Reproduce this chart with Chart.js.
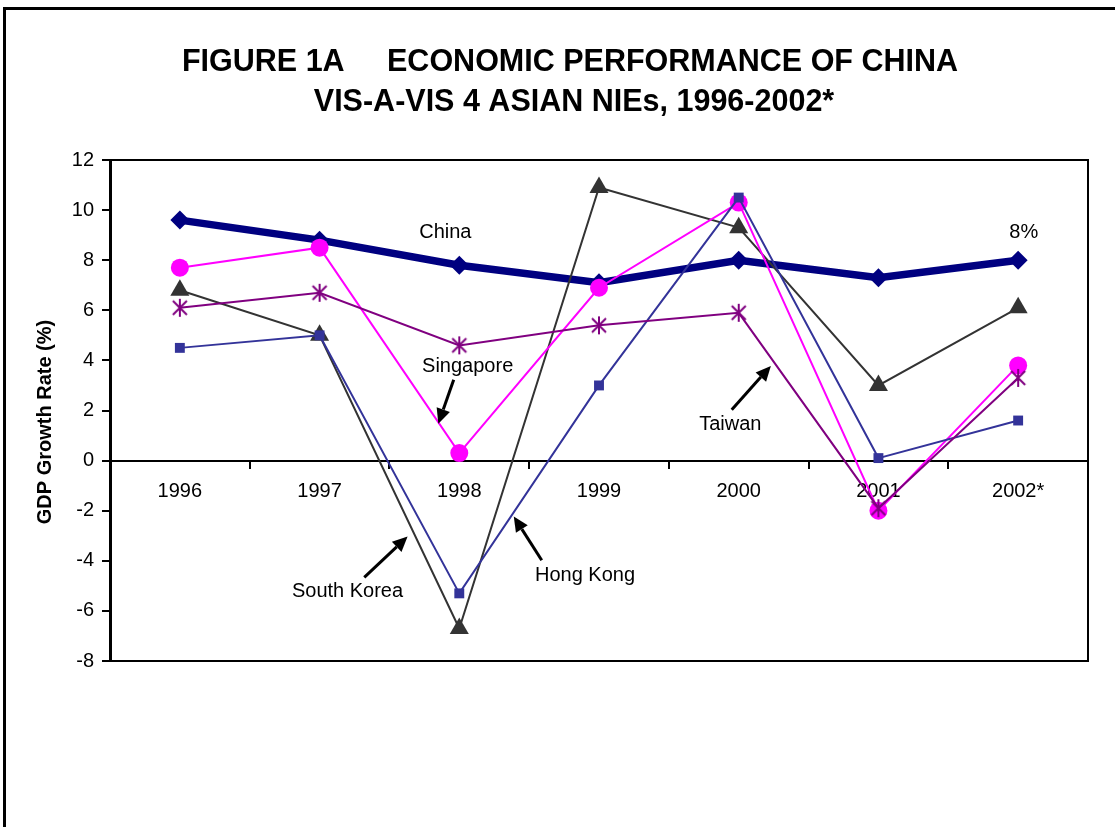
<!DOCTYPE html>
<html>
<head>
<meta charset="utf-8">
<script src="https://cdn.jsdelivr.net/npm/chart.js@4.4.1/dist/chart.umd.min.js"></script>
<style>
  body { margin: 0; background: #fff; }
  canvas { display: block; }
</style>
</head>
<body>
<canvas id="gdpChart" width="1115" height="827"></canvas>
<script>
const years = ['1996', '1997', '1998', '1999', '2000', '2001', '2002*'];
const china = [9.6, 8.8, 7.8, 7.1, 8.0, 7.3, 8.0];
const singapore = [7.7, 8.5, 0.3, 6.9, 10.3, -2.0, 3.8];
const taiwan = [6.1, 6.7, 4.6, 5.4, 5.9, -1.9, 3.3];
const southKorea = [6.8, 5.0, -6.7, 10.9, 9.3, 3.0, 6.1];
const hongKong = [4.5, 5.0, -5.3, 3.0, 10.5, 0.1, 1.6];
const yTicks = [-8, -6, -4, -2, 0, 2, 4, 6, 8, 10, 12];

const FONT = '"Liberation Sans", Arial, sans-serif';

// excel style asterisk marker
function starMarker(color) {
    const c = document.createElement('canvas');
    c.width = 20; c.height = 20;
    const g = c.getContext('2d');
    g.strokeStyle = color;
    g.lineWidth = 2;
    g.beginPath();
    g.moveTo(10, 1); g.lineTo(10, 19);
    g.moveTo(3, 3); g.lineTo(17, 17);
    g.moveTo(17, 3); g.lineTo(3, 17);
    g.stroke();
    return c;
}

// text labels and arrows, placed in data units (category index, value)
const labels = [
    { text: 'China', x: 1.9, y: 9.12 },
    { text: '8%', x: 6.04, y: 9.1 },
    { text: 'Singapore', x: 2.06, y: 3.75 },
    { text: 'Taiwan', x: 3.94, y: 1.43 },
    { text: 'South Korea', x: 1.2, y: -5.22 },
    { text: 'Hong Kong', x: 2.9, y: -4.58 },
];
const arrows = [
    { from: [1.96, 3.23], to: [1.85, 1.47] },
    { from: [3.95, 2.03], to: [4.23, 3.78] },
    { from: [1.32, -4.66], to: [1.63, -3.03] },
    { from: [2.59, -3.98], to: [2.39, -2.23] },
];

const decorations = {
    id: 'decorations',
    beforeDraw(chart) {
        const ctx = chart.ctx;
        ctx.save();
        ctx.fillStyle = '#fff';
        ctx.fillRect(0, 0, chart.width, chart.height);
        // outer frame
        ctx.strokeStyle = '#000';
        ctx.lineWidth = 3;
        ctx.strokeRect(4.5, 8.5, 1130, 840);
        // title
        ctx.fillStyle = '#000';
        ctx.font = 'bold 30.5px ' + FONT;
        ctx.textAlign = 'center';
        ctx.textBaseline = 'middle';
        ctx.fillText('FIGURE 1A     ECONOMIC PERFORMANCE OF CHINA', 570, 63);
        ctx.fillText('VIS-A-VIS 4 ASIAN NIEs, 1996-2002*', 574, 103);
        // y axis title
        ctx.font = 'bold 20px ' + FONT;
        ctx.translate(45, 422);
        ctx.rotate(-Math.PI / 2);
        ctx.fillText('GDP Growth Rate (%)', 0, 0);
        ctx.restore();
    },
    beforeDatasetsDraw(chart) {
        const ctx = chart.ctx;
        const a = chart.chartArea;
        ctx.save();
        ctx.strokeStyle = '#000';
        ctx.lineWidth = 2;
        ctx.beginPath();
        ctx.moveTo(a.left, a.top);
        ctx.lineTo(a.right, a.top);
        ctx.lineTo(a.right, a.bottom);
        ctx.lineTo(a.left, a.bottom);
        ctx.stroke();
        ctx.restore();
    },
    afterDatasetsDraw(chart) {
        const ctx = chart.ctx;
        const xs = chart.scales.x, ys = chart.scales.y;
        const px = v => xs.getPixelForValue(0) + v * (xs.getPixelForValue(1) - xs.getPixelForValue(0));
        const py = v => ys.getPixelForValue(v);
        ctx.save();
        ctx.fillStyle = '#000';
        ctx.strokeStyle = '#000';
        ctx.font = '20px ' + FONT;
        ctx.textAlign = 'center';
        ctx.textBaseline = 'middle';
        labels.forEach(l => ctx.fillText(l.text, px(l.x), py(l.y)));

        arrows.forEach(ar => {
            const x1 = px(ar.from[0]), y1 = py(ar.from[1]);
            const x2 = px(ar.to[0]), y2 = py(ar.to[1]);
            const ang = Math.atan2(y2 - y1, x2 - x1);
            const head = 15, half = 7;
            const bx = x2 - head * Math.cos(ang), by = y2 - head * Math.sin(ang);
            ctx.lineWidth = 3;
            ctx.beginPath();
            ctx.moveTo(x1, y1);
            ctx.lineTo(bx, by);
            ctx.stroke();
            ctx.beginPath();
            ctx.moveTo(x2, y2);
            ctx.lineTo(bx + half * Math.sin(ang), by - half * Math.cos(ang));
            ctx.lineTo(bx - half * Math.sin(ang), by + half * Math.cos(ang));
            ctx.closePath();
            ctx.fill();
        });
        ctx.restore();
    }
};

new Chart(document.getElementById('gdpChart'), {
    type: 'line',
    data: {
        labels: years,
        datasets: [{
            label: 'China',
            data: china,
            borderColor: '#000080',
            backgroundColor: '#000080',
            borderWidth: 7.5,
            pointStyle: 'rectRot',
            pointRadius: 9.5,
            pointBorderWidth: 0,
            order: 4
        }, {
            label: 'South Korea',
            data: southKorea,
            borderColor: '#333333',
            backgroundColor: '#333333',
            borderWidth: 2,
            pointStyle: 'triangle',
            pointRadius: 11,
            pointBorderWidth: 0,
            order: 3
        }, {
            label: 'Singapore',
            data: singapore,
            borderColor: '#ff00ff',
            backgroundColor: '#ff00ff',
            borderWidth: 2,
            pointStyle: 'circle',
            pointRadius: 9,
            pointBorderWidth: 0,
            order: 2
        }, {
            label: 'Hong Kong',
            data: hongKong,
            borderColor: '#333399',
            backgroundColor: '#333399',
            borderWidth: 2,
            pointStyle: 'rect',
            pointRadius: 7,
            pointBorderWidth: 0,
            order: 1
        }, {
            label: 'Taiwan',
            data: taiwan,
            borderColor: '#800080',
            backgroundColor: '#800080',
            borderWidth: 2,
            pointStyle: starMarker('#800080'),
            pointRadius: 9,
            order: 0
        }]
    },
    options: {
        responsive: false,
        animation: false,
        devicePixelRatio: 1,
        layout: { padding: { left: 0, top: 160, right: 27, bottom: 166 } },
        plugins: {
            legend: { display: false },
            tooltip: { enabled: false }
        },
        elements: { line: { tension: 0 } },
        scales: {
            x: {
                type: 'category',
                position: { y: 0 },
                offset: true,
                grid: { offset: true, drawOnChartArea: false, tickLength: 7, color: '#000', lineWidth: 2 },
                border: { display: true, color: '#000', width: 2 },
                ticks: { color: '#000', font: { family: FONT, size: 20 }, padding: 12, maxRotation: 0, autoSkip: false }
            },
            y: {
                min: -8,
                max: 12,
                afterBuildTicks: scale => { scale.ticks = yTicks.map(v => ({ value: v })); },
                afterFit: scale => { scale.width = 110; },
                grid: { drawOnChartArea: false, tickLength: 8, color: '#000', lineWidth: 2 },
                border: { display: true, color: '#000', width: 3 },
                ticks: { color: '#000', font: { family: FONT, size: 20 }, padding: 8 }
            }
        }
    },
    plugins: [decorations]
});
</script>
</body>
</html>
